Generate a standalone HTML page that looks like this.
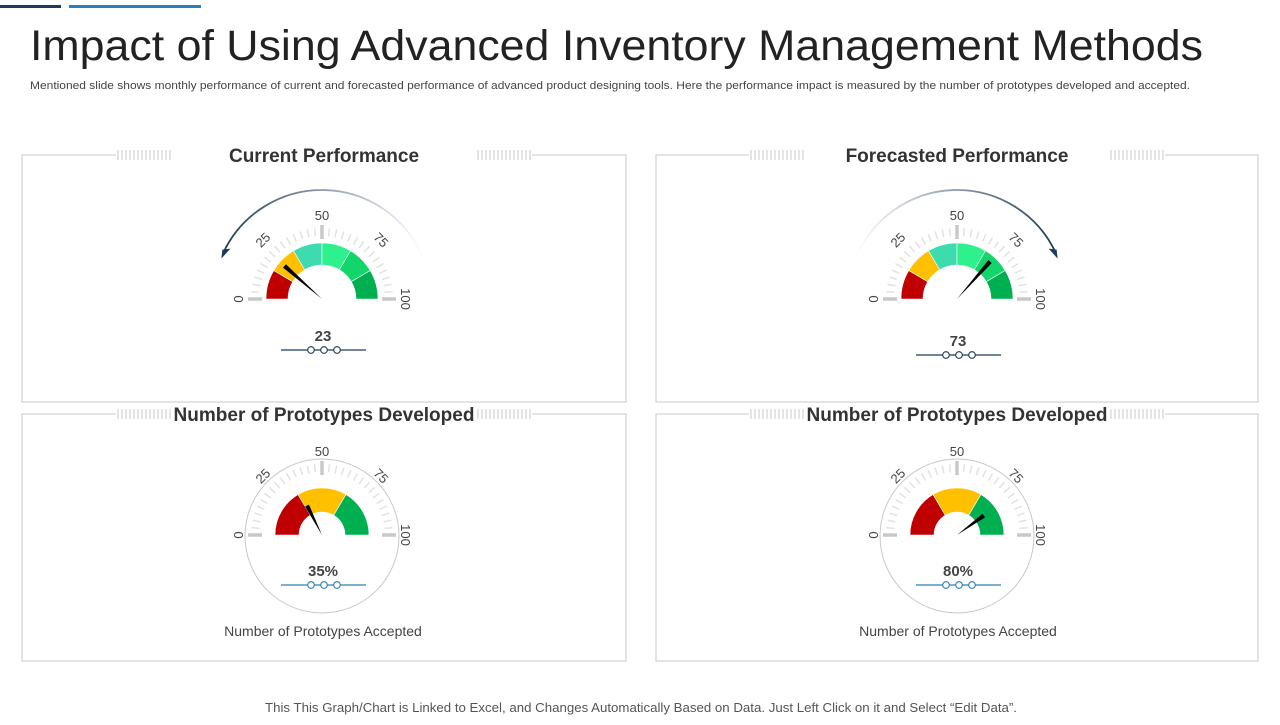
<!DOCTYPE html>
<html><head><meta charset="utf-8"><style>
body{margin:0;width:1280px;height:720px;background:#fff;overflow:hidden;font-family:"Liberation Sans",sans-serif;}
</style></head><body>
<svg id="s" width="1280" height="720" viewBox="0 0 1280 720" xmlns="http://www.w3.org/2000/svg">
<rect x="0" y="5" width="61" height="3" fill="#1f3b5c"/>
<rect x="69" y="5" width="132" height="3" fill="#2b7fc1"/>
<text x="30" y="60" font-size="43" fill="#222" textLength="1173" lengthAdjust="spacingAndGlyphs">Impact of Using Advanced Inventory Management Methods</text>
<text x="30" y="89" font-size="11" fill="#444" textLength="1160" lengthAdjust="spacingAndGlyphs">Mentioned slide shows monthly performance of current and forecasted performance of advanced product designing tools. Here the performance impact is measured by the number of prototypes  developed and accepted.</text>
<text x="265" y="712" font-size="12.5" fill="#555" textLength="752" lengthAdjust="spacingAndGlyphs">This This Graph/Chart  is Linked to Excel, and Changes  Automatically Based on Data.  Just Left Click on it and Select “Edit Data”.</text>
</svg>
<script>
const panelTitles=["Current Performance","Forecasted Performance","Number of Prototypes Developed","Number of Prototypes Developed"];
const gaugeValues=[23,73,35,80];
const valueLabels=["23","73","35%","80%"];
const tickLabels=["0","25","50","75","100"];
const tickValues=[0,25,50,75,100];
const topBands=[0,17,33,50,67,83,100];
const topColors=["#c00000","#ffc000","#3ddbae","#2ef08c","#12d66a","#00b050"];
const bottomBands=[0,33,67,100];
const bottomColors=["#c00000","#ffc000","#00b050"];
const NS="http://www.w3.org/2000/svg";
const svg=document.getElementById('s');
function el(t,a,p){const e=document.createElementNS(NS,t);for(const k in a)e.setAttribute(k,a[k]);(p||svg).appendChild(e);return e;}
function ang(v){return Math.PI*(1-v/100);}
function pt(cx,cy,r,v){return [cx+r*Math.cos(ang(v)),cy-r*Math.sin(ang(v))];}
function sector(cx,cy,r1,r2,a,b){const [x1,y1]=pt(cx,cy,r2,a),[x2,y2]=pt(cx,cy,r2,b),[x3,y3]=pt(cx,cy,r1,b),[x4,y4]=pt(cx,cy,r1,a);
return `M${x1},${y1}A${r2},${r2} 0 0 1 ${x2},${y2}L${x3},${y3}A${r1},${r1} 0 0 0 ${x4},${y4}Z`;}
const panels=[{x:22,y:155,w:604,h:247,cx:322,cy:299,top:1},{x:656,y:155,w:602,h:247,cx:957,cy:299,top:1},
{x:22,y:414,w:604,h:247,cx:322,cy:535,top:0},{x:656,y:414,w:602,h:247,cx:957,cy:535,top:0}];
panels.forEach((p,i)=>{
  const g=el('g',{});
  
  
  const mid=p.x+p.w/2;
  const tw=208;
  const b=el('path',{d:`M${mid-tw},${p.y}H${p.x}V${p.y+p.h}H${p.x+p.w}V${p.y}H${mid+tw}`,fill:'none',stroke:'#c8c8c8','stroke-width':1},g);
  
  
  for(let k=0;k<14;k++){el('line',{x1:mid-tw+4*k+2,x2:mid-tw+4*k+2,y1:p.y-5,y2:p.y+5,stroke:'#c8c8c8','stroke-width':1},g);
    el('line',{x1:mid+tw-4*k-2,x2:mid+tw-4*k-2,y1:p.y-5,y2:p.y+5,stroke:'#c8c8c8','stroke-width':1},g);}
  const t=el('text',{x:mid,y:p.y+7,'font-size':19,'font-weight':'bold',fill:'#333','text-anchor':'middle'},g);
  t.textContent=panelTitles[i];
  
  
  const cx=p.cx,cy=p.cy;
  if(!p.top){const c=el('circle',{cx:cx,cy:cy+1,r:77,fill:'none',stroke:'#c8c8c8'},g);
    }
  else{
    const left=i===0;
    const R=109;
    const d=left?`M${pt(cx,cy,R,88)}A${R},${R} 0 0 0 ${pt(cx,cy,R,14)}`:`M${pt(cx,cy,R,12)}A${R},${R} 0 0 1 ${pt(cx,cy,R,86)}`;
    const gr=el('linearGradient',{id:'ag'+i,x1:left?1:0,x2:left?0:1,y1:0,y2:0},g);
    el('stop',{offset:0,'stop-color':'#fff'},gr);el('stop',{offset:1,'stop-color':'#1f3b5c'},gr);
    const ar=el('path',{d:d,fill:'none',stroke:`url(#ag${i})`,'stroke-width':1.8},g);
    
    const e=pt(cx,cy,R,left?14:86);
    const hp=left?`${e[0]-2},${e[1]+6} ${e[0]+7},${e[1]-4} ${e[0]-1},${e[1]-3}`:`${e[0]+2},${e[1]+6} ${e[0]-7},${e[1]-4} ${e[0]+1},${e[1]-3}`;
    el('polygon',{points:hp,fill:'#1f3b5c'},g);
  }
  for(let v=0;v<=100;v+=100/30){const maj=tickValues.some(m=>Math.abs(m-v)<0.1);
    const [x1,y1]=pt(cx,cy,maj?60:63,v),[x2,y2]=pt(cx,cy,maj?74:71,v);
    el('line',{x1,y1,x2,y2,stroke:maj?'#c8c8c8':'#e2e2e2','stroke-width':maj?3.5:1.5},g);}
  tickValues.forEach((v,k)=>{const [x,y]=pt(cx,cy,83,v);const rot=(v-50)*1.8;
    const tx=el('text',{x,y:y+4,'font-size':13,fill:'#444','text-anchor':'middle',transform:`rotate(${rot} ${x} ${y})`},g);
    tx.textContent=tickLabels[k];});
  const bands=p.top?topBands:bottomBands,cols=p.top?topColors:bottomColors;
  const r1=p.top?34:23,r2=p.top?56:47;
  for(let k=0;k<cols.length;k++){const s=el('path',{d:sector(cx,cy,r1,r2,bands[k],bands[k+1]),fill:cols[k],stroke:'#fff','stroke-width':0.6},g);
    }
  const v=gaugeValues[i];const L=p.top?50:33;
  const [nx,ny]=pt(cx,cy,L,v),a=ang(v);const px=Math.sin(a)*2.2,py=Math.cos(a)*2.2;
  const n=el('polygon',{points:`${cx},${cy} ${nx+px},${ny+py} ${nx-px},${ny-py}`,fill:'#000'},g);
  
  const vy=p.top?(i===0?341:346):576;
  const vt=el('text',{x:cx+1,y:vy,'font-size':15,'font-weight':'bold',fill:'#444','text-anchor':'middle'},g);
  vt.textContent=valueLabels[i];
  const ly=vy+9;const lc=p.top?'#1f3b5c':'#2b7fb1';
  el('line',{x1:cx-41,x2:cx+44,y1:ly,y2:ly,stroke:lc,'stroke-width':1.2},g);
  [-11,2,15].forEach(o=>el('circle',{cx:cx+o,cy:ly,r:3.3,fill:'#fff',stroke:lc,'stroke-width':1.1},g));
  if(!p.top){const c=el('text',{x:cx+1,y:636,'font-size':14,fill:'#444','text-anchor':'middle'},g);
    c.textContent='Number of Prototypes Accepted';}
});
</script>
</body></html>
